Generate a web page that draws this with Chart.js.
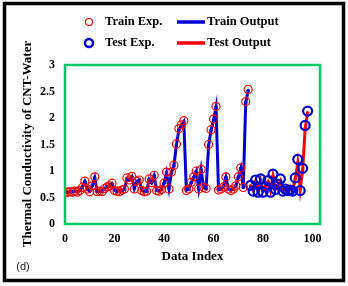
<!DOCTYPE html>
<html>
<head>
<meta charset="utf-8">
<script src="https://cdn.jsdelivr.net/npm/chart.js@4.4.1/dist/chart.umd.min.js"></script>
<style>
  html, body { margin: 0; padding: 0; background: #fff; }
  #wrap { width: 348px; height: 286px; }
</style>
</head>
<body>
<div id="wrap"><canvas id="c" width="348" height="286"></canvas></div>
<script>
// data (index = position in array, test starts at 75)
const trainExp = [0.58, 0.60, 0.61, 0.60, 0.62, 0.60, 0.63, 0.69, 0.81, 0.66,
                  0.61, 0.72, 0.89, 0.61, 0.62, 0.61, 0.67, 0.70, 0.72, 0.77,
                  0.63, 0.62, 0.61, 0.64, 0.66, 0.87, 0.83, 0.90, 0.66, 0.81,
                  0.83, 0.63, 0.61, 0.62, 0.85, 0.78, 0.92, 0.63, 0.62, 0.65,
                  0.77, 0.98, 0.66, 0.98, 1.11, 1.51, 1.80, 1.87, 1.95, 0.63,
                  0.66, 0.79, 0.89, 1.00, 0.66, 1.03, 0.69, 0.67, 1.50, 1.78,
                  1.98, 2.22, 0.64, 0.66, 0.70, 0.89, 0.66, 0.63, 0.66, 0.72,
                  0.89, 1.06, 0.69, 2.31, 2.54];
const trainOut = [0.59, 0.60, 0.61, 0.61, 0.62, 0.61, 0.63, 0.70, 0.80, 0.66,
                  0.62, 0.72, 0.87, 0.62, 0.62, 0.62, 0.67, 0.70, 0.72, 0.76,
                  0.64, 0.62, 0.62, 0.64, 0.66, 0.85, 0.83, 0.89, 0.67, 0.80,
                  0.83, 0.64, 0.62, 0.62, 0.84, 0.78, 0.91, 0.64, 0.62, 0.65,
                  0.77, 0.96, 0.67, 0.97, 1.10, 1.49, 1.78, 1.86, 1.93, 0.64,
                  0.66, 0.78, 0.88, 0.99, 0.67, 1.02, 0.69, 0.67, 1.48, 1.77,
                  1.96, 2.20, 0.65, 0.66, 0.70, 0.88, 0.66, 0.64, 0.66, 0.72,
                  0.88, 1.05, 0.69, 2.29, 2.52];
const testStart = 75;
const testExp = [0.73, 0.62, 0.83, 0.60, 0.85, 0.60, 0.70, 0.82, 0.60, 0.94,
                 0.65, 0.75, 0.85, 0.62, 0.66, 0.63, 0.64, 0.62, 0.87, 1.22,
                 0.63, 1.05, 1.86, 2.13];
const testOut = [0.72, 0.64, 0.80, 0.63, 0.82, 0.63, 0.71, 0.79, 0.63, 0.90,
                 0.66, 0.74, 0.82, 0.64, 0.66, 0.64, 0.65, 0.64, 0.85, 1.15,
                 0.66, 1.02, 1.80, 2.10];
const xTicks = [0, 20, 40, 60, 80, 100];
const yTicks = [0, 0.5, 1, 1.5, 2, 2.5, 3];

const serif = "'Times New Roman', 'Liberation Serif', serif";
const pts = (arr, start) => arr.map((v, i) => ({ x: start + i, y: v }));

// frame, green box, titles and legend
const decor = {
  id: 'decor',
  afterDraw(chart) {
    const ctx = chart.ctx;
    const a = chart.chartArea;
    ctx.save();
    ctx.strokeStyle = '#00c864';
    ctx.lineWidth = 2.5;
    ctx.strokeRect(a.left, a.top, a.right - a.left, a.bottom - a.top);

    ctx.strokeStyle = '#000';
    ctx.lineWidth = 3.5;
    ctx.strokeRect(4.5, 3.5, 339, 277);

    ctx.fillStyle = '#000';
    ctx.font = 'bold 13px ' + serif;
    ctx.textAlign = 'center';
    ctx.textBaseline = 'middle';
    ctx.fillText('Data Index', 192.5, 257);
    ctx.save();
    ctx.translate(28, 144);
    ctx.rotate(-Math.PI / 2);
    ctx.fillText('Thermal Conductivity of CNT-Water', 0, 0);
    ctx.restore();

    ctx.font = '11px "Liberation Sans", Arial, sans-serif';
    ctx.fillStyle = '#222';
    ctx.fillText('(d)', 23, 267);

    // legend
    ctx.font = 'bold 12.5px ' + serif;
    ctx.fillStyle = '#000';
    ctx.textAlign = 'left';
    ctx.beginPath();
    ctx.arc(89, 22, 3.5, 0, Math.PI * 2);
    ctx.strokeStyle = '#ff0000';
    ctx.lineWidth = 1.2;
    ctx.stroke();
    ctx.fillText('Train Exp.', 105, 22);
    ctx.beginPath();
    ctx.arc(89, 43, 4, 0, Math.PI * 2);
    ctx.strokeStyle = '#0000d0';
    ctx.lineWidth = 2.5;
    ctx.stroke();
    ctx.fillText('Test Exp.', 105, 43);
    ctx.lineWidth = 3.5;
    ctx.strokeStyle = '#0000d0';
    ctx.beginPath(); ctx.moveTo(177, 22); ctx.lineTo(205, 22); ctx.stroke();
    ctx.strokeStyle = '#ff0000';
    ctx.beginPath(); ctx.moveTo(177, 43); ctx.lineTo(205, 43); ctx.stroke();
    ctx.fillText('Train Output', 207, 22);
    ctx.fillText('Test Output', 207, 43);
    ctx.restore();
  }
};

new Chart(document.getElementById('c'), {
  type: 'scatter',
  data: {
    datasets: [
      {
        label: 'Train Exp.', data: pts(trainExp, 0), order: 1,
        pointRadius: 4, pointBorderWidth: 1.2, pointBorderColor: '#ff0000',
        pointBackgroundColor: 'rgba(0,0,0,0)', showLine: false
      },
      {
        label: 'Test Exp.', data: pts(testExp, testStart), order: 2,
        pointRadius: 4.5, pointBorderWidth: 2.2, pointBorderColor: '#0000d0',
        pointBackgroundColor: 'rgba(0,0,0,0)', showLine: false
      },
      {
        label: 'Train Output', data: pts(trainOut, 0), order: 3,
        showLine: true, borderColor: '#0000d0', borderWidth: 3,
        pointRadius: 1.8, pointBackgroundColor: '#0000d0', pointBorderWidth: 0
      },
      {
        label: 'Test Output', data: pts(testOut, testStart), order: 4,
        showLine: true, borderColor: '#ff0000', borderWidth: 3,
        pointRadius: 1.8, pointBackgroundColor: '#ff0000', pointBorderWidth: 0
      }
    ]
  },
  options: {
    responsive: false,
    animation: false,
    devicePixelRatio: 1,
    layout: { padding: { top: 65, right: 28, left: 0, bottom: 0 } },
    plugins: { legend: { display: false }, tooltip: { enabled: false } },
    scales: {
      x: {
        type: 'linear', min: 0, max: 103,
        afterFit: s => { s.height = 62; },
        afterBuildTicks: s => { s.ticks = xTicks.map(v => ({ value: v })); },
        grid: { display: false, drawTicks: false },
        border: { display: false },
        ticks: { padding: 8, color: '#000', callback: v => String(v),
                 font: { family: serif, size: 12, weight: 'bold' } }
      },
      y: {
        min: 0, max: 3,
        afterFit: s => { s.width = 65; },
        afterBuildTicks: s => { s.ticks = yTicks.map(v => ({ value: v })); },
        grid: { display: false, drawTicks: false },
        border: { display: false },
        ticks: { padding: 10, color: '#000', callback: v => String(v),
                 font: { family: serif, size: 12, weight: 'bold' } }
      }
    }
  },
  plugins: [decor]
});
</script>
</body>
</html>
